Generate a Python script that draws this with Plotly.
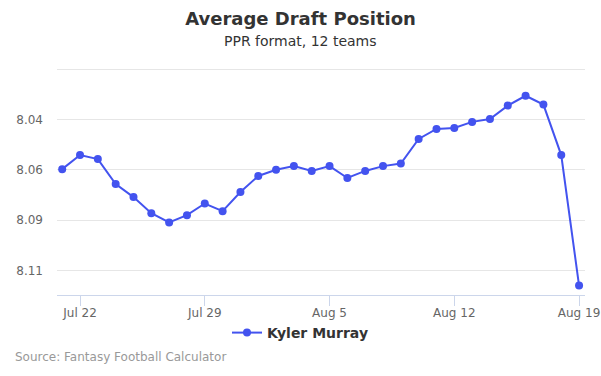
import plotly.graph_objects as go
import pandas as pd

start_date = "2019-07-21"
adp = [8.0596, 8.0526, 8.0546, 8.0670, 8.0735, 8.0815, 8.0861, 8.0825, 8.0767, 8.0805,
       8.0710, 8.0630, 8.0599, 8.0581, 8.0605, 8.0581, 8.0640, 8.0605, 8.0581, 8.0568,
       8.0446, 8.0396, 8.0391, 8.0361, 8.0347, 8.0280, 8.0231, 8.0275, 8.0526, 8.1175]
dates = pd.date_range(start_date, periods=len(adp), freq="D")

x_tick_vals = ["2019-07-22", "2019-07-29", "2019-08-05", "2019-08-12", "2019-08-19"]
x_tick_text = ["Jul 22", "Jul 29", "Aug 5", "Aug 12", "Aug 19"]
y_tick_vals = [8.01, 8.035, 8.06, 8.085, 8.11]
y_tick_text = ["", "8.04", "8.06", "8.09", "8.11"]

series_name = "Kyler Murray"
color = "#4353ef"
font = "DejaVu Sans"

center_x = (300.5 - 57) / 528

fig = go.Figure()
fig.add_trace(go.Scatter(
    x=dates, y=adp, mode="lines+markers", name="<b>" + series_name + "</b>",
    line=dict(color=color, width=2),
    marker=dict(color=color, size=8),
))

fig.update_layout(
    width=601, height=376,
    margin=dict(l=57, r=16, t=68, b=81),
    paper_bgcolor="white", plot_bgcolor="white",
    font=dict(family=font, color="#666666", size=11),
    title=dict(text="<b>Average Draft Position</b>", x=0.5, xanchor="center",
               y=1 - 19 / 376, yanchor="middle", yref="container",
               font=dict(size=18, color="#333333", family=font)),
    showlegend=True,
    legend=dict(orientation="h", x=center_x, xanchor="center", y=-(333 - 295) / 227, yanchor="middle",
                font=dict(size=14, color="#333333", family=font),
                bgcolor="rgba(0,0,0,0)", itemwidth=30),
    xaxis=dict(
        range=["2019-07-20 17:00", "2019-08-19 08:00"],
        tickvals=x_tick_vals, ticktext=x_tick_text,
        ticks="outside", ticklen=10, tickcolor="#ccd6eb",
        showline=True, linecolor="#ccd6eb", linewidth=1,
        showgrid=False, zeroline=False, automargin=False,
        ticklabelstandoff=-3,
        tickfont=dict(size=12, color="#666666"),
    ),
    yaxis=dict(
        range=[8.1222, 8.0093],
        tickvals=y_tick_vals, ticktext=y_tick_text,
        showgrid=True, gridcolor="#e6e6e6", gridwidth=1,
        zeroline=False, showline=False, ticks="", automargin=False,
        ticklabelstandoff=13,
        tickfont=dict(size=12, color="#666666"),
    ),
    annotations=[
        dict(text="PPR format, 12 teams", xref="paper", yref="paper",
             x=center_x, y=1 + (68 - 41) / 227, xanchor="center", yanchor="middle",
             showarrow=False, font=dict(size=14, color="#333333", family=font)),
        dict(text="Source: Fantasy Football Calculator", xref="paper", yref="paper",
             x=-44 / 528, y=-(357 - 295) / 227, xanchor="left", yanchor="middle",
             showarrow=False, font=dict(size=12, color="#999999", family=font)),
    ],
)

fig.write_html("out.html", config={"displayModeBar": False},
               post_script="document.body.style.margin='0';")
